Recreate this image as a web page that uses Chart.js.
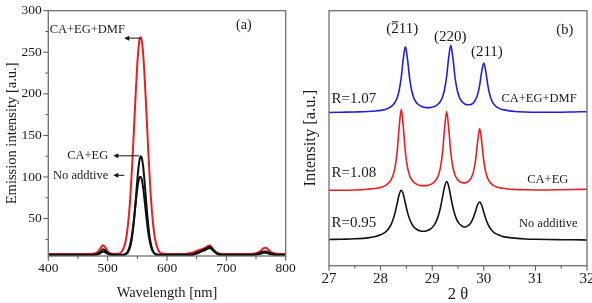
<!DOCTYPE html>
<html><head><meta charset="utf-8">
<script src="https://cdn.jsdelivr.net/npm/chart.js@4/dist/chart.umd.min.js"></script>
<style>
html,body{margin:0;padding:0;background:#fff;width:592px;height:303px;overflow:hidden}
#ca{position:absolute;left:0;top:0;width:300px;height:303px}
#cb{position:absolute;left:300px;top:0;width:292px;height:303px}
</style></head><body>
<canvas id="ca" width="300" height="303"></canvas>
<canvas id="cb" width="292" height="303"></canvas>
<script>
// ---------- Panel (a): emission spectra ----------
const wavelength = [400,420,440,460,470,478,484,488,492,496,500,505,512,520,526,530,534,538,541,544,547,550,552,554,556,558,560,563,566,569,572,576,580,586,592,600,615,630,640,648,655,660,665,669,672,675,680,686,695,710,725,740,748,754,759,763,767,771,776,782,790,800];
const emDMF = [7.5,7.5,7.5,7.5,7.5,8,10.5,14.5,18,15.5,10.5,8,7.5,8,13,21.5,40.5,74,110,152.5,197,236,255,266.5,268,261.5,246.5,211,167.5,123.5,85,47.5,25,11,8,7.5,7.5,7.5,8.5,10.5,12.5,13.5,15,17,17.5,16,11.5,8.5,7.5,7.5,7.5,7.5,8,9.5,12,14.5,15,12.5,9.5,8,7.5,7.5];
const emEG = [6.5,6.5,6.5,6.5,6.5,6.8,8,10,13,11.5,8.5,7,6.5,6.5,6.6,7.1,9.2,16,27,45,69.5,96.5,111.5,121.5,125,121.5,111.5,87.5,61,38.5,22.5,11.5,7.8,6.6,6.5,6.5,6.5,6.5,6.5,8.5,10.5,12,13.5,15.5,16,14.5,10.5,7.5,6.5,6.5,6.5,6.5,6.8,8,9.5,10.5,10.5,9.5,8,6.8,6.5,6.5];
const emNone = [6,6,6,6,6,6.3,7,8.5,10.5,9.5,7.5,6.5,6,6,6.3,7.3,10.5,18.9,30.5,47,67,86,95.3,100,100,95.3,86,67,47,30.5,19,10.5,7.3,6.1,6,6,6,6,6,7.5,9.5,11,12.5,14,14.5,13.5,10,7,6,6,6,6,6.3,7,8,9,9,8,7,6.3,6,6];
const wlTicks = [400,500,600,700,800];
const emTicks = [50,100,150,200,250,300];

// ---------- Panel (b): XRD patterns ----------
const twoTheta = [27.0,27.25,27.5,27.75,27.9,
 28.00,28.04,28.08,28.12,28.16,28.20,28.24,28.28,28.32,28.36,28.40,28.44,28.48,28.52,28.56,28.60,28.64,28.68,28.72,28.76,28.80,28.84,28.88,28.92,28.96,
 29.00,29.04,29.08,29.12,29.16,29.20,29.24,29.28,29.32,29.36,29.40,29.44,29.48,29.52,29.56,29.60,29.64,29.68,29.72,29.76,29.80,29.84,29.88,29.92,29.96,
 30.00,30.04,30.08,30.12,30.16,30.20,30.24,30.28,30.32,30.36,30.40,
 30.5,30.6,30.8,31.0,31.25,31.5,31.75,32.0];
const xrdNone = [10.3,10.4,10.55,10.9,11.45,
 12.1,12.5,13.0,13.7,14.7,16.0,18.0,20.7,24.3,27.9,29.6,28.0,24.5,21.0,18.4,16.6,15.3,14.5,14.0,13.7,13.5,13.5,13.6,13.9,14.3,
 15.0,16.0,17.5,19.7,22.8,26.9,31.0,33.0,31.1,27.0,23.0,20.0,17.9,16.6,15.8,15.3,15.2,15.5,16.1,17.2,19.0,21.4,23.9,25.0,23.7,
 21.0,18.3,16.3,14.8,13.8,13.0,12.5,12.1,11.8,11.5,11.3,
 11.0,10.8,10.5,10.35,10.25,10.2,10.15,10.1];
const xrdEG = [29.6,29.6,29.7,30.0,30.3,
 30.7,31.0,31.3,31.8,32.5,33.6,35.4,38.6,44.5,54.3,61.3,54.3,44.6,38.7,35.6,33.8,32.8,32.2,31.8,31.5,31.4,31.4,31.4,31.5,31.8,
 32.2,32.8,33.8,35.5,38.6,44.3,53.8,60.5,53.8,44.4,38.7,35.7,34.1,33.2,32.7,32.5,32.5,32.8,33.4,34.6,36.9,41.3,48.6,53.8,48.5,
 41.0,36.5,34.1,32.7,31.9,31.3,31.0,30.7,30.5,30.4,30.3,
 30.0,29.9,29.8,29.7,29.7,29.8,29.9,30.0];
const xrdDMF = [60.1,60.2,60.3,60.45,60.65,
 60.9,61.1,61.2,61.5,61.9,62.3,63.0,64.1,65.8,68.8,73.8,81.2,85.8,81.2,73.9,68.9,66.0,64.4,63.4,62.8,62.4,62.1,62.0,62.0,62.0,
 62.2,62.4,62.8,63.5,64.5,66.2,69.2,74.2,81.7,86.4,81.7,74.3,69.3,66.4,64.8,63.9,63.3,63.1,63.1,63.3,63.9,65.1,67.1,70.8,76.2,
 79.5,76.0,70.5,66.7,64.5,63.2,62.4,61.9,61.5,61.2,61.1,
 60.7,60.5,60.3,60.2,60.2,60.2,60.3,60.4];
const thetaTicks = [27,28,29,30,31,32];

const SERIF = '"Liberation Serif","Times New Roman",serif';
const TXT = '#1a1a1a';

function minorsOf(majors, lo){
  const step = majors[1]-majors[0];
  return majors.map(v=>v-step/2).filter(v=>v>lo);
}

const frameTicks = {
  id:'frameTicks',
  afterDraw(chart, args, o){
    const {ctx, chartArea:a, scales} = chart;
    ctx.save();
    ctx.strokeStyle = '#707070'; ctx.lineWidth = 1.3;
    ctx.strokeRect(a.left, a.top, a.right-a.left, a.bottom-a.top);
    ctx.lineWidth = 1; ctx.strokeStyle = '#555';
    const seg=(x1,y1,x2,y2)=>{ctx.beginPath();ctx.moveTo(x1,y1);ctx.lineTo(x2,y2);ctx.stroke();};
    (o.xMajor||[]).forEach(v=>{const p=scales.x.getPixelForValue(v); seg(p,a.bottom,p,a.bottom+5);});
    (o.xMinor||[]).forEach(v=>{const p=scales.x.getPixelForValue(v); seg(p,a.bottom,p,a.bottom+3);});
    (o.yMajor||[]).forEach(v=>{const p=scales.y.getPixelForValue(v); seg(a.left,p,a.left-5,p);});
    (o.yMinor||[]).forEach(v=>{const p=scales.y.getPixelForValue(v); seg(a.left,p,a.left-3,p);});
    ctx.restore();
  }
};

const notes = {
  id:'notes',
  afterDatasetsDraw(chart, args, o){
    const {ctx, scales} = chart;
    ctx.save();
    (o.texts||[]).forEach(t=>{
      ctx.font = t.size+'px '+SERIF;
      ctx.fillStyle = TXT;
      ctx.textAlign = t.align||'center';
      ctx.textBaseline = 'middle';
      const px = scales.x.getPixelForValue(t.x), py = scales.y.getPixelForValue(t.y);
      ctx.fillText(t.text, px, py);
      if (t.bar !== undefined) {
        const w = ctx.measureText(t.text).width;
        const start = t.align==='left' ? px : (t.align==='right' ? px-w : px-w/2);
        const b0 = start + ctx.measureText(t.text.slice(0,t.bar)).width;
        const b1 = start + ctx.measureText(t.text.slice(0,t.bar+1)).width;
        ctx.strokeStyle = TXT; ctx.lineWidth = 1;
        ctx.beginPath(); ctx.moveTo(b0+0.5, py-t.size*0.5); ctx.lineTo(b1-0.5, py-t.size*0.5); ctx.stroke();
      }
    });
    (o.arrows||[]).forEach(r=>{
      const x1=scales.x.getPixelForValue(r.x1), x2=scales.x.getPixelForValue(r.x2), y=scales.y.getPixelForValue(r.y);
      ctx.strokeStyle = '#111'; ctx.fillStyle='#111'; ctx.lineWidth=1;
      ctx.beginPath(); ctx.moveTo(x1+4,y); ctx.lineTo(x2,y); ctx.stroke();
      ctx.beginPath(); ctx.moveTo(x1,y); ctx.lineTo(x1+5,y-2.5); ctx.lineTo(x1+5,y+2.5); ctx.closePath(); ctx.fill();
    });
    ctx.restore();
  }
};

function fixBox(w,h){
  return function(s){
    if(w!==null) s.width=w;
    if(h!==null) s.height=h;
    s.paddingLeft=0; s.paddingRight=0; s.paddingTop=0; s.paddingBottom=0;
  };
}
const pts=(xs,ys)=>xs.map((x,i)=>({x:x,y:ys[i]}));

// ---------- Chart (a) ----------
new Chart(document.getElementById('ca'), {
  type:'line',
  data:{datasets:[
    {label:'No addtive', data:pts(wavelength,emNone), borderColor:'#111', borderWidth:2, order:0},
    {label:'CA+EG', data:pts(wavelength,emEG), borderColor:'#111', borderWidth:2, order:1},
    {label:'CA+EG+DMF', data:pts(wavelength,emDMF), borderColor:'#ee1c1c', borderWidth:2, order:2}
  ]},
  options:{
    responsive:false, animation:false, events:[],
    elements:{point:{radius:0}, line:{cubicInterpolationMode:'monotone', fill:false}},
    layout:{padding:{top:10.7,right:14.3,left:0,bottom:0}},
    plugins:{legend:{display:false}, tooltip:{enabled:false},
      frameTicks:{xMajor:wlTicks, xMinor:minorsOf(wlTicks,400), yMajor:emTicks, yMinor:minorsOf(emTicks,5)},
      notes:{
        texts:[
          {text:'CA+EG+DMF', x:529, y:277, align:'right', size:12.5},
          {text:'CA+EG', x:501, y:125.5, align:'right', size:12.5},
          {text:'No addtive', x:501, y:102, align:'right', size:12.5},
          {text:'(a)', x:729.5, y:282, align:'center', size:14}
        ],
        arrows:[
          {x1:528, x2:555, y:267},
          {x1:509.5, x2:553, y:125.5},
          {x1:509.5, x2:528, y:102}
        ]
      }
    },
    scales:{
      x:{type:'linear', min:400, max:800, afterFit:fixBox(null,47),
        afterBuildTicks:s=>{s.ticks=wlTicks.map(v=>({value:v}));},
        grid:{display:false, drawTicks:false}, border:{display:false},
        ticks:{font:{family:SERIF,size:13.5}, color:TXT, padding:4, maxRotation:0, autoSkip:false},
        title:{display:true, text:'Wavelength [nm]', font:{family:SERIF,size:14.5}, color:TXT, padding:{top:0,bottom:1.3}}
      },
      y:{type:'linear', min:5, max:300, afterFit:fixBox(48.3,null),
        afterBuildTicks:s=>{s.ticks=emTicks.map(v=>({value:v}));},
        grid:{display:false, drawTicks:false}, border:{display:false},
        ticks:{font:{family:SERIF,size:13.5}, color:TXT, padding:6.5, autoSkip:false},
        title:{display:true, text:'Emission intensity [a.u.]', font:{family:SERIF,size:14.5}, color:TXT, padding:{top:3.3,bottom:0}}
      }
    }
  },
  plugins:[frameTicks, notes]
});

// ---------- Chart (b) ----------
new Chart(document.getElementById('cb'), {
  type:'line',
  data:{datasets:[
    {label:'No additive', data:pts(twoTheta,xrdNone), borderColor:'#111', borderWidth:1.6},
    {label:'CA+EG', data:pts(twoTheta,xrdEG), borderColor:'#ee1c1c', borderWidth:1.6},
    {label:'CA+EG+DMF', data:pts(twoTheta,xrdDMF), borderColor:'#1e1ee6', borderWidth:1.6}
  ]},
  options:{
    responsive:false, animation:false, events:[],
    elements:{point:{radius:0}, line:{cubicInterpolationMode:'monotone', fill:false}},
    layout:{padding:{top:10.7,right:5,left:0,bottom:0}},
    plugins:{legend:{display:false}, tooltip:{enabled:false},
      frameTicks:{xMajor:thetaTicks, xMinor:minorsOf(thetaTicks,27)},
      notes:{
        texts:[
          {text:'(211)', bar:1, x:28.42, y:92.7, align:'center', size:15},
          {text:'(220)', x:29.35, y:89.8, align:'center', size:15},
          {text:'(211)', x:30.06, y:83.9, align:'center', size:15},
          {text:'(b)', x:31.57, y:92.4, align:'center', size:14.5},
          {text:'R=1.07', x:27.05, y:65.3, align:'left', size:15},
          {text:'R=1.08', x:27.05, y:36.2, align:'left', size:15},
          {text:'R=0.95', x:27.05, y:16.9, align:'left', size:15},
          {text:'CA+EG+DMF', x:31.07, y:65.4, align:'center', size:12.5},
          {text:'CA+EG', x:31.24, y:33.9, align:'center', size:12.5},
          {text:'No additive', x:31.25, y:16.6, align:'center', size:12.5}
        ]
      }
    },
    scales:{
      x:{type:'linear', min:27, max:32, afterFit:fixBox(null,37.3),
        afterBuildTicks:s=>{s.ticks=thetaTicks.map(v=>({value:v}));},
        grid:{display:false, drawTicks:false}, border:{display:false},
        ticks:{font:{family:SERIF,size:15}, color:TXT, padding:4, maxRotation:0, autoSkip:false},
        title:{display:true, text:'2 \u03b8', font:{family:SERIF,size:16.5,lineHeight:1}, color:TXT, padding:{top:0,bottom:0}}
      },
      y:{type:'linear', min:0, max:100, afterFit:fixBox(29,null),
        grid:{display:false, drawTicks:false}, border:{display:false},
        ticks:{display:false},
        title:{display:true, text:'Intensity [a.u.]', font:{family:SERIF,size:16.5}, color:TXT, padding:{top:1.1,bottom:0}}
      }
    }
  },
  plugins:[frameTicks, notes]
});
</script>
</body></html>
